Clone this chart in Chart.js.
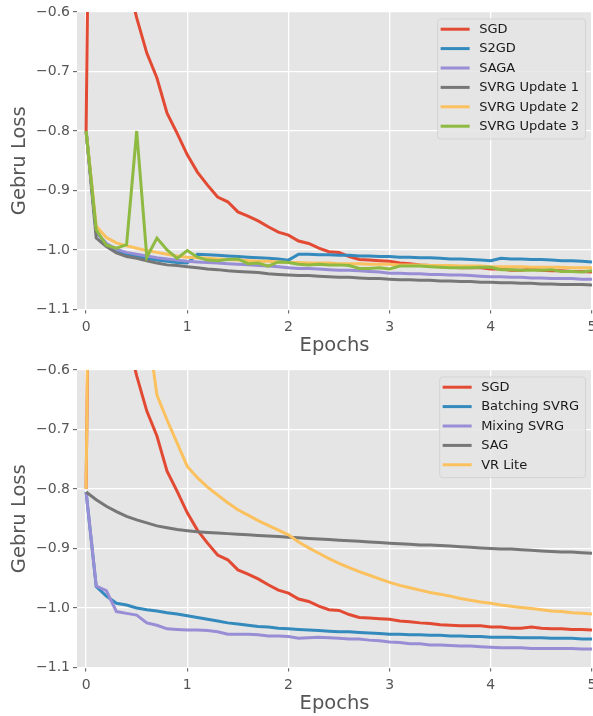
<!DOCTYPE html>
<html>
<head>
<meta charset="utf-8">
<script src="https://cdn.jsdelivr.net/npm/chart.js@4.4.0/dist/chart.umd.min.js"></script>
<style>
  html, body { margin: 0; padding: 0; background: #fff; }
  #wrap { position: relative; width: 593px; height: 716px; }
  .panel { position: absolute; left: 0; width: 593px; height: 358px; }
</style>
</head>
<body>
<div id="wrap">
  <div class="panel" style="top:0"><canvas id="topChart" width="593" height="358"></canvas></div>
  <div class="panel" style="top:358px"><canvas id="bottomChart" width="593" height="358"></canvas></div>
</div>
<script>
// ── DATA ─────────────────────────────────────────────────────────
const epochs = [0, 0.1, 0.2, 0.3, 0.4, 0.5, 0.6, 0.7, 0.8, 0.9,
  1, 1.1, 1.2, 1.3, 1.4, 1.5, 1.6, 1.7, 1.8, 1.9,
  2, 2.1, 2.2, 2.3, 2.4, 2.5, 2.6, 2.7, 2.8, 2.9,
  3, 3.1, 3.2, 3.3, 3.4, 3.5, 3.6, 3.7, 3.8, 3.9,
  4, 4.1, 4.2, 4.3, 4.4, 4.5, 4.6, 4.7, 4.8, 4.9, 5];
const xTicks = [0, 1, 2, 3, 4, 5];
const yTicks = [-1.1, -1.0, -0.9, -0.8, -0.7, -0.6];

const sgd = [-0.8, 0.7, 0.05, -0.3, -0.54, -0.61, -0.669, -0.711, -0.770, -0.804,
  -0.840, -0.869, -0.891, -0.911, -0.919, -0.936, -0.943, -0.951, -0.961, -0.970,
  -0.975, -0.985, -0.989, -0.997, -1.003, -1.004, -1.011, -1.016, -1.017, -1.018,
  -1.019, -1.022, -1.023, -1.025, -1.026, -1.028, -1.029, -1.030, -1.030, -1.030,
  -1.032, -1.032, -1.034, -1.034, -1.032, -1.034, -1.035, -1.035, -1.036, -1.036, -1.037];

// top panel
const s2gd = [-0.8, -0.970, -0.990, -1.003, -1.008, -1.010, -1.014, -1.017, -1.019, -1.021,
  -1.022, -1.007, -1.008, -1.009, -1.010, -1.011, -1.012, -1.013, -1.014, -1.015,
  -1.017, -1.007, -1.007, -1.008, -1.008, -1.009, -1.009, -1.010, -1.010, -1.011,
  -1.011, -1.012, -1.012, -1.013, -1.013, -1.014, -1.015, -1.015, -1.016, -1.017,
  -1.018, -1.014, -1.015, -1.015, -1.016, -1.016, -1.017, -1.018, -1.018, -1.019, -1.020];
const saga = [-0.8, -0.970, -0.989, -0.999, -1.004, -1.007, -1.010, -1.013, -1.015, -1.017,
  -1.019, -1.020, -1.021, -1.022, -1.023, -1.024, -1.025, -1.026, -1.027, -1.028,
  -1.030, -1.031, -1.031, -1.032, -1.033, -1.034, -1.034, -1.035, -1.036, -1.037,
  -1.039, -1.039, -1.040, -1.040, -1.041, -1.041, -1.042, -1.042, -1.043, -1.044,
  -1.045, -1.045, -1.046, -1.046, -1.047, -1.047, -1.048, -1.048, -1.048, -1.049, -1.049];
const svrg1 = [-0.8, -0.980, -0.994, -1.005, -1.011, -1.014, -1.018, -1.022, -1.025, -1.026,
  -1.028, -1.030, -1.032, -1.033, -1.035, -1.036, -1.037, -1.038, -1.040, -1.041,
  -1.042, -1.043, -1.043, -1.044, -1.045, -1.046, -1.046, -1.047, -1.048, -1.048,
  -1.049, -1.050, -1.050, -1.051, -1.051, -1.052, -1.052, -1.053, -1.053, -1.054,
  -1.054, -1.055, -1.055, -1.056, -1.056, -1.057, -1.057, -1.058, -1.058, -1.058, -1.059];
const svrg2 = [-0.8, -0.960, -0.979, -0.988, -0.993, -0.997, -1.001, -1.004, -1.007, -1.010,
  -1.012, -1.013, -1.014, -1.015, -1.016, -1.017, -1.018, -1.019, -1.019, -1.020,
  -1.021, -1.021, -1.022, -1.022, -1.022, -1.023, -1.023, -1.023, -1.024, -1.024,
  -1.024, -1.025, -1.025, -1.025, -1.026, -1.026, -1.026, -1.027, -1.027, -1.027,
  -1.028, -1.028, -1.028, -1.028, -1.029, -1.029, -1.029, -1.029, -1.030, -1.030, -1.030];
const svrg3 = [-0.8, -0.966, -0.992, -0.997, -0.991, -0.800, -1.012, -0.980, -1.000, -1.014,
  -1.001, -1.012, -1.017, -1.018, -1.016, -1.015, -1.023, -1.022, -1.027, -1.020,
  -1.021, -1.024, -1.025, -1.024, -1.025, -1.025, -1.026, -1.031, -1.031, -1.030,
  -1.032, -1.027, -1.027, -1.027, -1.028, -1.029, -1.030, -1.030, -1.030, -1.029,
  -1.029, -1.033, -1.033, -1.034, -1.034, -1.034, -1.033, -1.036, -1.036, -1.037, -1.035];

// bottom panel
const batching = [-0.805, -0.964, -0.980, -0.992, -0.995, -1.000, -1.003, -1.005, -1.008, -1.010,
  -1.013, -1.016, -1.019, -1.022, -1.025, -1.027, -1.029, -1.031, -1.032, -1.034,
  -1.035, -1.036, -1.037, -1.038, -1.039, -1.040, -1.040, -1.041, -1.042, -1.043,
  -1.044, -1.044, -1.045, -1.045, -1.046, -1.046, -1.047, -1.047, -1.048, -1.048,
  -1.049, -1.049, -1.049, -1.050, -1.050, -1.050, -1.051, -1.051, -1.051, -1.052, -1.052];
const mixing = [-0.805, -0.963, -0.971, -1.006, -1.009, -1.012, -1.025, -1.029, -1.035, -1.036,
  -1.037, -1.037, -1.038, -1.040, -1.044, -1.044, -1.044, -1.045, -1.047, -1.047,
  -1.048, -1.051, -1.050, -1.049, -1.050, -1.051, -1.052, -1.052, -1.054, -1.055,
  -1.057, -1.058, -1.060, -1.060, -1.062, -1.062, -1.063, -1.064, -1.064, -1.065,
  -1.066, -1.067, -1.067, -1.067, -1.068, -1.068, -1.068, -1.068, -1.068, -1.069, -1.069];
const sag = [-0.805, -0.818, -0.829, -0.838, -0.846, -0.852, -0.857, -0.862, -0.865, -0.868,
  -0.870, -0.872, -0.873, -0.874, -0.875, -0.876, -0.877, -0.878, -0.879, -0.880,
  -0.881, -0.882, -0.883, -0.884, -0.885, -0.886, -0.887, -0.888, -0.889, -0.890,
  -0.891, -0.892, -0.893, -0.894, -0.894, -0.895, -0.896, -0.897, -0.898, -0.899,
  -0.900, -0.901, -0.901, -0.902, -0.903, -0.904, -0.905, -0.906, -0.906, -0.907, -0.908];
const vrLite = [-0.8, 0.8, 0.3, 0.0, -0.25, -0.4, -0.52, -0.642, -0.684, -0.723,
  -0.762, -0.781, -0.797, -0.810, -0.823, -0.835, -0.844, -0.853, -0.861, -0.869,
  -0.877, -0.889, -0.899, -0.908, -0.917, -0.925, -0.932, -0.939, -0.945, -0.951,
  -0.957, -0.962, -0.966, -0.970, -0.974, -0.977, -0.980, -0.984, -0.987, -0.990,
  -0.992, -0.995, -0.997, -0.999, -1.001, -1.003, -1.005, -1.006, -1.008, -1.009, -1.010];

const topLabels    = ['SGD', 'S2GD', 'SAGA', 'SVRG Update 1', 'SVRG Update 2', 'SVRG Update 3'];
const topSeries    = [sgd, s2gd, saga, svrg1, svrg2, svrg3];
const bottomLabels = ['SGD', 'Batching SVRG', 'Mixing SVRG', 'SAG', 'VR Lite'];
const bottomSeries = [sgd, batching, mixing, sag, vrLite];

const pal = ['#E24A33', '#348ABD', '#988ED5', '#777777', '#FBC15E', '#8EBA42'];
const FONT = '"DejaVu Sans", "Liberation Sans", sans-serif';

// ── PLUGINS ──────────────────────────────────────────────────────
const panelBg = {
  id: 'panelBg',
  beforeDraw(chart) {
    const { ctx, chartArea: a } = chart;
    ctx.save();
    ctx.fillStyle = '#E5E5E5';
    ctx.fillRect(a.left, a.top, a.right - a.left, a.bottom - a.top);
    ctx.restore();
  }
};

const boxLegend = {
  id: 'boxLegend',
  afterDatasetsDraw(chart) {
    const { ctx, chartArea: a } = chart;
    const sets = chart.data.datasets;
    ctx.save();
    ctx.font = '13px ' + FONT;
    const tw = Math.max(...sets.map(d => ctx.measureText(d.label).width));
    const w = 42 + tw + 6, h = (sets.length - 1) * 19.4 + 23;
    const x0 = a.right - 7 - w, y0 = a.top + 6.5;
    ctx.beginPath();
    ctx.roundRect(x0 + 0.5, y0 + 0.5, w, h, 3);
    ctx.fillStyle = 'rgba(229,229,229,0.85)';
    ctx.fill();
    ctx.strokeStyle = 'rgba(210,210,210,0.9)';
    ctx.lineWidth = 1;
    ctx.stroke();
    sets.forEach((d, i) => {
      const y = y0 + 10.7 + i * 19.4;
      ctx.beginPath();
      ctx.moveTo(x0 + 3.5, y);
      ctx.lineTo(x0 + 32.5, y);
      ctx.strokeStyle = d.borderColor;
      ctx.lineWidth = 3;
      ctx.stroke();
      ctx.fillStyle = '#1a1a1a';
      ctx.textBaseline = 'middle';
      ctx.textAlign = 'left';
      ctx.fillText(d.label, x0 + 42, y + 0.5);
    });
    ctx.restore();
  }
};

// ── CHARTS ───────────────────────────────────────────────────────
function fmtY(v) {
  return (v < 0 ? '\u2212' : '') + Math.abs(v).toFixed(1);
}

function buildChart(id, labels, series) {
  const datasets = series.map((vals, i) => ({
    label: labels[i],
    data: epochs.map((x, j) => ({ x, y: vals[j] })),
    borderColor: pal[i],
    backgroundColor: pal[i],
    borderWidth: 3,
    pointRadius: 0,
    tension: 0,
    fill: false,
    order: series.length - i
  }));
  return new Chart(document.getElementById(id), {
    type: 'line',
    data: { datasets },
    options: {
      responsive: false, animation: false,
      layout: { padding: { top: 12, right: 1, left: 0, bottom: 0 } },
      plugins: { legend: { display: false }, tooltip: { enabled: false } },
      scales: {
        x: {
          type: 'linear', min: -0.09, max: 5,
          afterBuildTicks: s => { s.ticks = xTicks.map(v => ({ value: v })); },
          afterFit: s => { s.height = 48.5; s.paddingLeft = 0; s.paddingRight = 0; },
          ticks: { color: '#555', font: { family: FONT, size: 14 }, padding: 5, maxRotation: 0, autoSkip: false, callback: v => String(v) },
          grid: { color: '#fff', lineWidth: 1.3, tickColor: '#555', tickLength: 4, tickWidth: 1 },
          border: { display: false },
          title: { display: true, text: 'Epochs', color: '#555', font: { family: FONT, size: 19.5 }, padding: { top: 0, bottom: 0 } }
        },
        y: {
          type: 'linear', min: -1.1, max: -0.6,
          afterBuildTicks: s => { s.ticks = yTicks.map(v => ({ value: v })); },
          afterFit: s => { s.width = 77; s.paddingTop = 0; s.paddingBottom = 0; },
          ticks: { color: '#555', font: { family: FONT, size: 14 }, padding: 3, callback: v => fmtY(v) },
          grid: { color: '#fff', lineWidth: 1.3, tickColor: '#555', tickLength: 4, tickWidth: 1 },
          border: { display: false },
          title: { display: true, text: 'Gebru Loss', color: '#555', font: { family: FONT, size: 19.5 }, padding: { top: 8, bottom: 0 } }
        }
      }
    },
    plugins: [panelBg, boxLegend]
  });
}

buildChart('topChart', topLabels, topSeries);
buildChart('bottomChart', bottomLabels, bottomSeries);
</script>
</body>
</html>
